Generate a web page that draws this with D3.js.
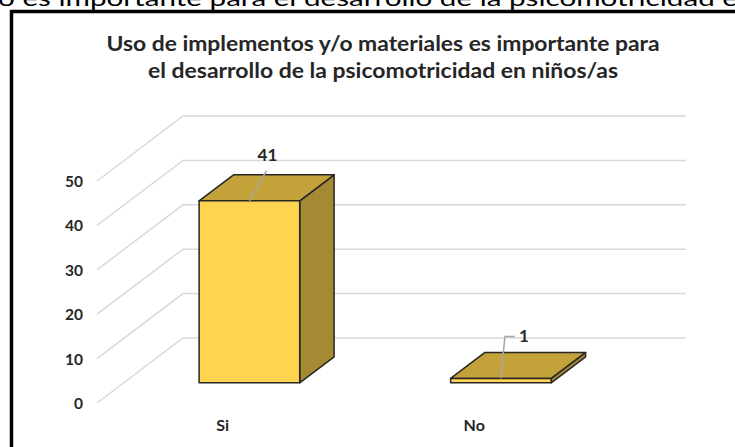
<!DOCTYPE html>
<html>
<head>
<meta charset="utf-8">
<script src="https://cdn.jsdelivr.net/npm/d3@7/dist/d3.min.js"></script>
<style>
  body { margin: 0; background: #fff; }
  svg { display: block; }
</style>
</head>
<body>
<div id="output"></div>
<script>
var w = 735;
var h = 447;

// chart data
var categories = ['Si', 'No'];
var values = [41, 1];
var tickValues = [0, 10, 20, 30, 40, 50];
var titleLines = ['Uso de implementos y/o materiales es importante para',
                  'el desarrollo de la psicomotricidad  en niños/as'];
var headingText = 'o es importante para el desarrollo de la psicomotricidad e';

// 3d look: depth vector of the whole plot and of the bars
var depthX = 86, depthY = -65;
var barD0 = 0.31, barD1 = 0.71;
var barFrac = 0.4;

var svg = d3.select('#output').append('svg')
            .attr('width', w)
            .attr('height', h);

// cut off heading of the document above the chart
svg.append('text')
  .text(headingText)
  .attr('x', -2)
  .attr('y', 6)
  .attr('textLength', 740)
  .attr('lengthAdjust', 'spacingAndGlyphs')
  .attr('font-family', 'Lato, sans-serif')
  .attr('font-size', 22)
  .attr('fill', '#000');

// chart border
svg.append('rect')
  .attr('x', 11.5)
  .attr('y', 11.5)
  .attr('width', 760)
  .attr('height', 460)
  .attr('fill', '#fff')
  .attr('stroke', '#000')
  .attr('stroke-width', 3.5);

// title
svg.selectAll('text.title')
  .data(titleLines)
  .enter()
  .append('text')
  .attr('class', 'title')
  .text(function (d) { return d; })
  .attr('x', 383)
  .attr('y', function (d, i) { return 51 + i * 27; })
  .attr('text-anchor', 'middle')
  .attr('textLength', function (d, i) { return i === 0 ? 553 : 470; })
  .attr('lengthAdjust', 'spacingAndGlyphs')
  .attr('font-family', 'Lato, sans-serif')
  .attr('font-weight', 'bold')
  .attr('font-size', 21)
  .attr('fill', '#262626');

var x = d3.scaleBand()
  .domain(categories)
  .range([97, 600]);

var y = d3.scaleLinear()
  .domain([0, 50])
  .range([403, 181]);

function pt(px, v, d) {
  return [px + d * depthX, y(v) + d * depthY];
}

// gridlines: side diagonal + back wall
var grid = svg.append('g');
tickValues.forEach(function (t) {
  var a = pt(x.range()[0], t, 0);
  var b = pt(x.range()[0], t, 1);
  var c = pt(x.range()[1], t, 1);
  grid.append('polyline')
    .attr('points', [a, b, c].map(function (p) { return p.join(','); }).join(' '))
    .attr('fill', 'none')
    .attr('stroke', '#d9d9d9')
    .attr('stroke-width', 1.5);
});

// tick labels
svg.selectAll('text.tick')
  .data(tickValues)
  .enter()
  .append('text')
  .attr('class', 'tick')
  .text(function (d) { return d; })
  .attr('x', 83)
  .attr('y', function (d) { return y(d) + 6; })
  .attr('text-anchor', 'end')
  .attr('font-family', 'Lato, sans-serif')
  .attr('font-weight', 'bold')
  .attr('font-size', 15.5)
  .attr('fill', '#262626');

// category labels
svg.selectAll('text.cat')
  .data(categories)
  .enter()
  .append('text')
  .attr('class', 'cat')
  .text(function (d) { return d; })
  .attr('x', function (d) { return x(d) + x.bandwidth() / 2; })
  .attr('y', 431)
  .attr('text-anchor', 'middle')
  .attr('font-family', 'Lato, sans-serif')
  .attr('font-weight', 'bold')
  .attr('font-size', 16)
  .attr('fill', '#262626');

// bars
function poly(pts) {
  return pts.map(function (p) { return p.join(','); }).join(' ');
}
var bw = x.bandwidth() * barFrac;
var bars = svg.selectAll('g.bar')
  .data(values)
  .enter()
  .append('g')
  .attr('class', 'bar');

bars.each(function (v, i) {
  var g = d3.select(this);
  var cx = x(categories[i]) + x.bandwidth() / 2;
  var l = cx - bw / 2, r = cx + bw / 2;
  var faces = [
    { fill: '#a58a33', pts: [pt(r, 0, barD0), pt(r, 0, barD1), pt(r, v, barD1), pt(r, v, barD0)] }, // side
    { fill: '#c4a23a', pts: [pt(l, v, barD0), pt(r, v, barD0), pt(r, v, barD1), pt(l, v, barD1)] }, // top
    { fill: '#ffd54f', pts: [pt(l, 0, barD0), pt(r, 0, barD0), pt(r, v, barD0), pt(l, v, barD0)] }  // front
  ];
  faces.forEach(function (f) {
    g.append('polygon')
      .attr('points', poly(f.pts))
      .attr('fill', f.fill)
      .attr('stroke', '#262626')
      .attr('stroke-width', 1.5)
      .attr('stroke-linejoin', 'round');
  });
});

// data labels with leader lines
var labelOffsets = [{ dx: 17, dy: -30, bend: false }, { dx: 4, dy: -42, bend: true }];
bars.each(function (v, i) {
  var g = d3.select(this);
  var cx = x(categories[i]) + x.bandwidth() / 2;
  var base = pt(cx, v, barD0);
  var o = labelOffsets[i];
  var tip = [base[0] + o.dx, base[1] + o.dy];
  var pts = [base, tip];
  if (o.bend) pts.push([tip[0] + 10, tip[1]]);
  g.append('polyline')
    .attr('points', poly(pts))
    .attr('fill', 'none')
    .attr('stroke', '#a6a6a6')
    .attr('stroke-width', 1.5);
  g.append('text')
    .text(v)
    .attr('x', o.bend ? tip[0] + 14 : tip[0] + 1)
    .attr('y', o.bend ? tip[1] + 6 : tip[1] - 10)
    .attr('text-anchor', o.bend ? 'start' : 'middle')
    .attr('font-family', 'Lato, sans-serif')
    .attr('font-weight', 'bold')
    .attr('font-size', 17)
    .attr('fill', '#262626');
});
</script>
</body>
</html>
